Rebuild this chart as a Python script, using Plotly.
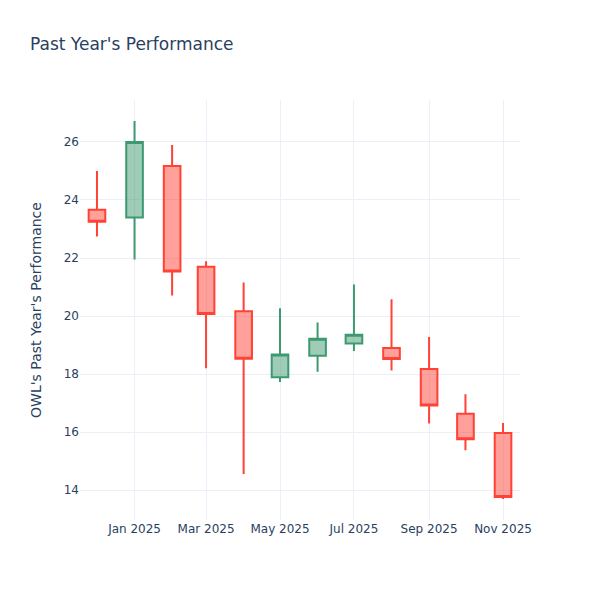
import plotly.graph_objects as go

dates = ["2024-12-01", "2025-01-01", "2025-02-01", "2025-03-01", "2025-04-01", "2025-05-01",
         "2025-06-01", "2025-07-01", "2025-08-01", "2025-09-01", "2025-10-01", "2025-11-01"]
open_ = [23.66, 23.40, 25.17, 21.70, 20.17, 17.89, 18.63, 19.06, 18.90, 18.18, 16.64, 15.97]
high = [25.00, 26.72, 25.89, 21.89, 21.16, 20.27, 19.78, 21.09, 20.58, 19.28, 17.31, 16.32]
low = [22.74, 21.95, 20.71, 18.20, 14.56, 17.73, 18.08, 18.80, 18.13, 16.30, 15.38, 13.70]
close = [23.25, 26.00, 21.54, 20.07, 18.53, 18.68, 19.22, 19.36, 18.52, 16.92, 15.76, 13.77]

fig = go.Figure(go.Candlestick(x=dates, open=open_, high=high, low=low, close=close))
fig.update_layout(
    template="plotly_white",
    width=600, height=600,
    font=dict(family="DejaVu Sans"),
    title=dict(text="Past Year's Performance", x=22/600, xanchor="left",
               y=1 - 36/600, yanchor="middle", yref="container"),
    yaxis=dict(title=dict(text="OWL's Past Year's Performance", standoff=18)),
    xaxis_rangeslider_visible=False,
    margin=dict(l=72, r=88, t=92, b=88),
)
fig.write_html("out.html")
